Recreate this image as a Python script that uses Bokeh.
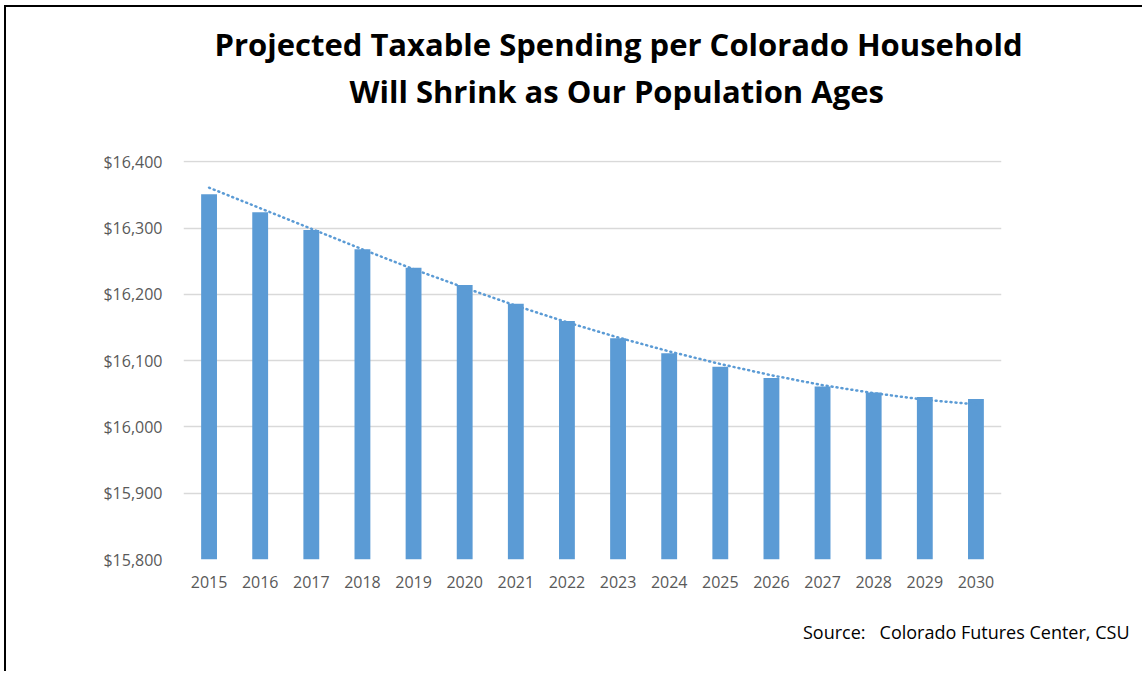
from bokeh.plotting import figure
from bokeh.models import (Range1d, FactorRange, FixedTicker, NumeralTickFormatter, Title,
                          ColumnDataSource, CategoricalAxis)
from bokeh.embed import file_html
from bokeh.resources import INLINE

years = [str(y) for y in range(2015, 2031)]
spending = [16351, 16324, 16297, 16268, 16240, 16214, 16186, 16160,
            16134, 16111, 16091, 16074, 16061, 16052, 16045, 16042]
trend = [16361, 16330, 16299, 16268, 16238, 16210, 16183, 16158,
         16135, 16114, 16095, 16078, 16063, 16051, 16041, 16034]
y_ticks = [15800, 15900, 16000, 16100, 16200, 16300, 16400]
title_lines = ["Projected Taxable Spending per Colorado Household",
               "Will Shrink as Our Population Ages"]
source_note = "Source:\u00a0\u00a0\u00a0Colorado Futures Center, CSU"

BLUE = "#5B9BD5"
FONT = "Open Sans"

src = ColumnDataSource(dict(year=years, val=spending, trend=trend))

p = figure(width=1138, height=666, x_range=FactorRange(*years),
           y_range=Range1d(y_ticks[0], y_ticks[-1] + 2),
           output_backend="svg", toolbar_location=None,
           min_border_left=177, min_border_right=143,
           min_border_top=153, min_border_bottom=114)
p.styles = {"border-left": "2px solid black", "border-top": "2px solid black",
            "margin-left": "4px", "margin-top": "5px"}
p.outline_line_color = None
p.x_range.range_padding = 0.0

p.vbar(x="year", top="val", bottom=y_ticks[0], width=0.31, source=src,
       fill_color=BLUE, line_color=None)
p.line(x="year", y="trend", source=src, line_color=BLUE, line_width=2.5,
       line_dash="1 4", line_cap="round")

p.xgrid.grid_line_color = None
p.ygrid.grid_line_color = "#D9D9D9"
p.ygrid.grid_line_width = 1.5
p.yaxis.ticker = FixedTicker(ticks=y_ticks)
p.yaxis.formatter = NumeralTickFormatter(format="$0,0")
for ax in (p.xaxis[0], p.yaxis[0]):
    ax.axis_line_color = None
    ax.major_tick_line_color = None
    ax.minor_tick_line_color = None
    ax.major_label_text_font = FONT
    ax.major_label_text_font_size = "16px"
    ax.major_label_text_color = "#595959"
p.yaxis.major_label_standoff = 15
p.xaxis.major_label_standoff = 10


def spacer(size):
    # an axis with invisible ticks and blank labels, used only to reserve space
    return CategoricalAxis(major_tick_out=size, major_tick_in=0, major_label_standoff=0,
                           major_label_overrides={y: "" for y in years},
                           major_label_text_font_size="1px",
                           major_label_text_color=None,
                           major_tick_line_color=None, minor_tick_line_color=None,
                           axis_line_color=None)


# above: spacer next to frame, then line 2, then line 1 (outermost)
p.add_layout(spacer(47), "above")
p.add_layout(Title(text=title_lines[1], align="left", offset=166, text_font=FONT,
                   text_font_style="bold", text_font_size="31px",
                   text_color="black", standoff=3), "above")
p.add_layout(Title(text=title_lines[0], align="left", offset=31, text_font=FONT,
                   text_font_style="bold", text_font_size="31px",
                   text_color="black", standoff=3), "above")
# below: x axis, spacer, source note
p.add_layout(spacer(25), "below")
p.add_layout(Title(text=source_note, align="right", offset=-128, text_font=FONT,
                   text_font_style="normal", text_font_size="18px",
                   text_color="black", standoff=4), "below")

open("out.html", "w").write(file_html(p, INLINE))
